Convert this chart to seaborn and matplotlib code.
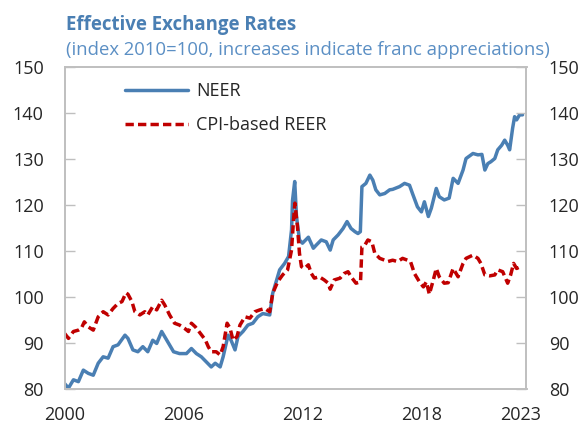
import numpy as np
import pandas as pd
import seaborn as sns
from matplotlib import pyplot as plt

# NEER (decimal years)
neer_years = [
    2000.0, 2000.2, 2000.45, 2000.7, 2000.95, 2001.2, 2001.45, 2001.7, 2001.95, 2002.2,
    2002.45, 2002.7, 2003.05, 2003.2, 2003.45, 2003.7, 2003.95, 2004.2, 2004.45, 2004.65,
    2004.9, 2005.05, 2005.2, 2005.5, 2005.8, 2006.15, 2006.4, 2006.65, 2006.9, 2007.15,
    2007.4, 2007.6, 2007.85, 2008.0, 2008.25, 2008.4, 2008.6, 2008.75, 2009.0, 2009.25,
    2009.5, 2009.75, 2010.0, 2010.35, 2010.5, 2010.7, 2010.85, 2011.1, 2011.3, 2011.45,
    2011.5, 2011.61, 2011.7, 2011.85, 2012.0, 2012.3, 2012.55, 2012.7, 2012.95, 2013.2,
    2013.4, 2013.55, 2013.8, 2014.05, 2014.25, 2014.45, 2014.65, 2014.8, 2014.92, 2015.0,
    2015.2, 2015.4, 2015.55, 2015.7, 2015.9, 2016.15, 2016.4, 2016.55, 2016.9, 2017.15,
    2017.4, 2017.55, 2017.8, 2018.0, 2018.15, 2018.35, 2018.5, 2018.75, 2018.9, 2019.15,
    2019.4, 2019.6, 2019.85, 2020.1, 2020.25, 2020.6, 2020.85, 2021.05, 2021.2, 2021.35,
    2021.5, 2021.7, 2021.85, 2022.05, 2022.2, 2022.35, 2022.45, 2022.6, 2022.7, 2022.8,
    2022.95, 2023.1,
]
neer = [
    81.2, 80.2, 82.0, 81.6, 84.1, 83.4, 83.0, 85.6, 87.0, 86.7,
    89.2, 89.6, 91.7, 91.0, 88.5, 88.1, 89.2, 88.1, 90.6, 89.9,
    92.5, 91.4, 90.3, 88.1, 87.7, 87.7, 88.8, 87.7, 87.0, 85.9,
    84.8, 85.6, 84.8, 87.0, 91.7, 90.6, 88.5, 91.4, 92.5, 93.9,
    94.3, 95.7, 96.4, 96.1, 100.8, 103.7, 105.9, 107.3, 108.8, 114.6,
    121.0, 125.1, 117.5, 112.4, 111.7, 113.0, 110.6, 111.3, 112.4, 112.0,
    110.2, 112.4, 113.5, 114.9, 116.4, 114.9, 114.2, 113.8, 114.2, 124.0,
    124.7, 126.5, 125.4, 123.3, 122.2, 122.5, 123.3, 123.4, 124.0, 124.7,
    124.3, 122.5, 119.6, 118.5, 120.7, 117.5, 119.3, 123.6, 121.8, 121.1,
    121.5, 125.8, 124.7, 127.6, 130.1, 131.2, 130.9, 131.0, 127.6, 129.0,
    129.4, 130.1, 132.0, 133.0, 134.1, 133.0, 132.0, 136.7, 139.2, 138.5,
    139.6, 139.6,
]

# CPI-based REER
reer_years = [
    2000.0, 2000.2, 2000.45, 2000.7, 2000.85, 2001.0, 2001.2, 2001.45, 2001.7, 2001.95,
    2002.2, 2002.45, 2002.7, 2002.9, 2003.1, 2003.2, 2003.4, 2003.55, 2003.8, 2004.05,
    2004.2, 2004.45, 2004.65, 2004.9, 2005.05, 2005.3, 2005.55, 2005.8, 2006.05, 2006.25,
    2006.4, 2006.6, 2006.85, 2007.1, 2007.25, 2007.4, 2007.65, 2007.85, 2008.0, 2008.2,
    2008.35, 2008.5, 2008.7, 2008.85, 2009.1, 2009.35, 2009.6, 2009.85, 2010.1, 2010.35,
    2010.5, 2010.75, 2011.0, 2011.25, 2011.45, 2011.55, 2011.62, 2011.75, 2011.85, 2011.95,
    2012.1, 2012.3, 2012.45, 2012.6, 2012.85, 2013.1, 2013.3, 2013.4, 2013.6, 2013.9,
    2014.1, 2014.3, 2014.45, 2014.7, 2014.93, 2015.0, 2015.15, 2015.3, 2015.5, 2015.65,
    2015.9, 2016.15, 2016.3, 2016.55, 2016.8, 2017.05, 2017.3, 2017.45, 2017.65, 2017.9,
    2018.1, 2018.25, 2018.4, 2018.6, 2018.75, 2018.9, 2019.15, 2019.35, 2019.6, 2019.85,
    2020.1, 2020.25, 2020.6, 2020.85, 2021.0, 2021.2, 2021.45, 2021.7, 2021.85, 2022.1,
    2022.35, 2022.5, 2022.65, 2022.8, 2023.0,
]
reer = [
    92.1, 91.0, 92.5, 92.8, 93.2, 94.6, 93.5, 92.8, 95.7, 96.8,
    96.1, 97.5, 98.6, 99.0, 100.9, 100.6, 99.0, 96.8, 96.1, 96.8,
    96.1, 97.9, 97.2, 99.3, 98.3, 96.1, 94.3, 93.9, 93.2, 92.5,
    94.3, 93.5, 92.1, 90.7, 89.2, 88.1, 88.1, 87.4, 89.2, 94.3,
    93.2, 90.6, 91.4, 93.9, 95.7, 95.4, 96.8, 97.2, 97.5, 96.8,
    100.8, 103.3, 104.8, 105.9, 110.2, 116.7, 120.4, 115.3, 109.5, 106.6,
    106.2, 107.0, 105.1, 104.1, 104.4, 103.7, 103.0, 101.7, 103.7, 104.1,
    105.1, 105.5, 104.4, 103.0, 103.3, 110.9, 111.3, 112.4, 112.0, 109.5,
    108.4, 108.0, 107.7, 108.0, 107.7, 108.4, 108.0, 107.7, 105.1, 103.3,
    102.2, 103.3, 100.6, 103.7, 106.2, 104.4, 103.0, 103.1, 106.2, 104.4,
    107.3, 108.4, 109.1, 108.4, 107.3, 104.8, 104.6, 104.8, 105.9, 105.5,
    103.0, 104.8, 107.3, 106.2, 106.6,
]

series_names = ["NEER", "CPI-based REER"]
x_ticks = [2000, 2006, 2012, 2018, 2023]
y_ticks = [80, 90, 100, 110, 120, 130, 140, 150]

df = pd.concat([
    pd.DataFrame({"year": neer_years, "value": neer, "series": series_names[0]}),
    pd.DataFrame({"year": reer_years, "value": reer, "series": series_names[1]}),
])

sns.set_style("white")
plt.rcParams["font.family"] = ["Open Sans", "DejaVu Sans"]

blue = "#4A7FB3"
red = "#C00000"
grey = "#BFBFBF"

fig = plt.figure(figsize=(5.79, 4.28), dpi=100)
ax = fig.add_axes([64.5 / 579, 1 - 389 / 428, (526.5 - 64.5) / 579, (389 - 67) / 428])

sns.lineplot(
    data=df, x="year", y="value", hue="series", style="series",
    palette={series_names[0]: blue, series_names[1]: red},
    dashes={series_names[0]: "", series_names[1]: (2.4, 1.2)},
    linewidth=2.5, estimator=None, ax=ax,
)

ax.set_xlim(2000, 2023.3)
ax.set_ylim(80, 150)
ax.set_xticks(x_ticks)
ax.set_yticks(y_ticks)
ax.set_xlabel("")
ax.set_ylabel("")

ax2 = ax.twinx()
ax2.set_ylim(80, 150)
ax2.set_yticks(y_ticks)

for a in (ax, ax2):
    for s in a.spines.values():
        s.set_color(grey)
        s.set_linewidth(1.2)
ax.tick_params(axis="x", direction="in", length=5, width=1, color=grey, labelsize=13, pad=12)
ax.tick_params(axis="y", direction="in", length=7, width=1, color=grey, labelsize=13, pad=15)
ax2.tick_params(axis="y", direction="in", length=7, width=1, color=grey, labelsize=13, pad=16)

handles, labels = ax.get_legend_handles_labels()
ax.get_legend().remove()
ax.legend(
    handles, labels, loc="upper left", bbox_to_anchor=(125 / 579, 1 - 82 / 428),
    bbox_transform=fig.transFigure, frameon=False, fontsize=13,
    handlelength=3.5, handletextpad=0.45, labelspacing=0.9, borderpad=0, borderaxespad=0,
)

fig.text(66 / 579, 1 - 30 / 428, "Effective Exchange Rates", fontsize=13.4, fontweight="bold",
         color="#4A7FB3", va="baseline", ha="left")
fig.text(66 / 579, 1 - 55 / 428, "(index 2010=100, increases indicate franc appreciations)",
         fontsize=13.3, color="#5B8FC4", va="baseline", ha="left")

fig.savefig("out.png", dpi=100)
